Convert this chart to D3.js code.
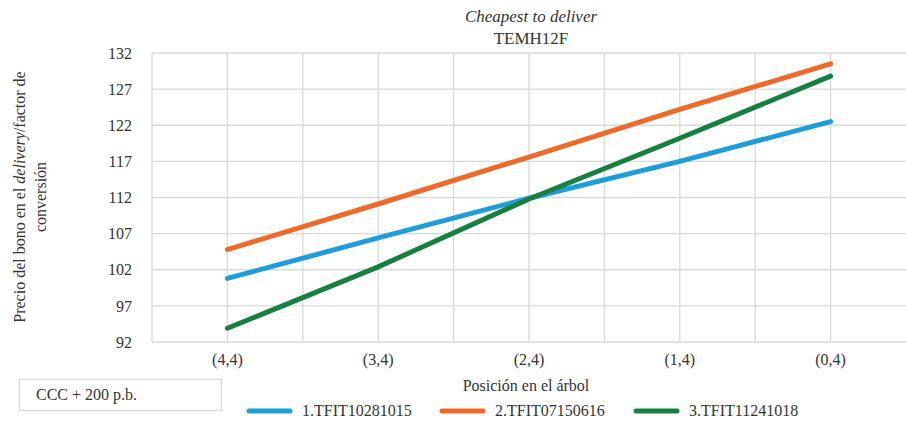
<!DOCTYPE html>
<html>
<head>
<meta charset="utf-8">
<script src="https://cdn.jsdelivr.net/npm/d3@7"></script>
<style>
  body { margin: 0; background: #fff; }
  svg text { font-family: 'Liberation Serif', Tinos, 'Times New Roman', Times, 'DejaVu Serif', serif !important; fill: #333; }
</style>
</head>
<body>
<div id="vis"></div>
<script>
// data
const CATEGORIES = ['(4,4)', '(3,4)', '(2,4)', '(1,4)', '(0,4)'];
const SERIES_NAMES = ['1.TFIT10281015', '2.TFIT07150616', '3.TFIT11241018'];
const BLUE_VALUES = [100.8, 106.4, 111.9, 117.0, 122.5];
const ORANGE_VALUES = [104.8, 111.1, 117.6, 124.2, 130.5];
const GREEN_VALUES = [93.9, 102.4, 111.8, 120.2, 128.8];
const Y_TICKS = [92, 97, 102, 107, 112, 117, 122, 127, 132];
const COLORS = ['#1f9ddb', '#ee6a2a', '#178041'];

const FRAME_WIDTH = 906;
const FRAME_HEIGHT = 423;
const MARGINS = {left: 152, right: 0, top: 53, bottom: 81};

const FRAME = d3.select('#vis')
    .append('svg')
        .attr('width', FRAME_WIDTH)
        .attr('height', FRAME_HEIGHT)
        .attr('font-family', "'Liberation Serif', 'Times New Roman', serif");

const X_SCALE = d3.scaleBand()
    .domain(CATEGORIES)
    .range([MARGINS.left, FRAME_WIDTH - MARGINS.right]);

const Y_SCALE = d3.scaleLinear()
    .domain([92, 132])
    .range([FRAME_HEIGHT - MARGINS.bottom, MARGINS.top]);

// gridlines
const grid = FRAME.append('g').attr('stroke', '#d9d9d9').attr('stroke-width', 1.3);
grid.selectAll('.h')
    .data(Y_TICKS)
    .enter()
    .append('line')
    .attr('x1', MARGINS.left)
    .attr('x2', FRAME_WIDTH - MARGINS.right)
    .attr('y1', d => Y_SCALE(d))
    .attr('y2', d => Y_SCALE(d));

const vLines = [];
CATEGORIES.forEach(c => {
    vLines.push(X_SCALE(c));
    vLines.push(X_SCALE(c) + X_SCALE.bandwidth() / 2);
});
grid.selectAll('.v')
    .data(vLines)
    .enter()
    .append('line')
    .attr('x1', d => d)
    .attr('x2', d => d)
    .attr('y1', Y_SCALE(132))
    .attr('y2', Y_SCALE(92));

// y axis labels
FRAME.append('g')
    .attr('transform', 'translate(' + (MARGINS.left - 20) + ',0)')
    .call(d3.axisLeft(Y_SCALE).tickValues(Y_TICKS).tickSize(0).tickPadding(0))
    .call(g => g.select('.domain').remove())
    .attr('font-family', null)
    .selectAll('text')
        .attr('font-size', '16px')
        .attr('fill', '#333');

// x axis labels
FRAME.append('g')
    .attr('transform', 'translate(0,' + (FRAME_HEIGHT - MARGINS.bottom + 12) + ')')
    .call(d3.axisBottom(X_SCALE).tickSize(0).tickPadding(0))
    .call(g => g.select('.domain').remove())
    .attr('font-family', null)
    .selectAll('text')
        .attr('font-size', '16px')
        .attr('fill', '#333');

// lines
const line = d3.line()
    .x((d, i) => X_SCALE(CATEGORIES[i]) + X_SCALE.bandwidth() / 2)
    .y(d => Y_SCALE(d));

[BLUE_VALUES, ORANGE_VALUES, GREEN_VALUES].forEach((vals, i) => {
    FRAME.append('path')
        .datum(vals)
        .attr('d', line)
        .attr('fill', 'none')
        .attr('stroke', COLORS[i])
        .attr('stroke-width', 5)
        .attr('stroke-linecap', 'round');
});

// titles
FRAME.append('text')
    .attr('x', 531).attr('y', 22)
    .attr('text-anchor', 'middle')
    .attr('font-size', '17px')
    .attr('font-style', 'italic')
    .text('Cheapest to deliver');
FRAME.append('text')
    .attr('x', 531).attr('y', 44)
    .attr('text-anchor', 'middle')
    .attr('font-size', '17px')
    .text('TEMH12F');

// y axis title
const yTitle = FRAME.append('text')
    .attr('transform', 'translate(25,' + 197 + ') rotate(-90)')
    .attr('text-anchor', 'middle')
    .attr('font-size', '16px');
yTitle.append('tspan').text('Precio del bono en el ');
yTitle.append('tspan').attr('font-style', 'italic').text('delivery');
yTitle.append('tspan').text('/factor de');
FRAME.append('text')
    .attr('transform', 'translate(46,' + 197 + ') rotate(-90)')
    .attr('text-anchor', 'middle')
    .attr('font-size', '16px')
    .text('conversión');

// x axis title
FRAME.append('text')
    .attr('x', 526).attr('y', 391)
    .attr('text-anchor', 'middle')
    .attr('font-size', '16px')
    .text('Posición en el árbol');

// annotation box
FRAME.append('rect')
    .attr('x', 19.5).attr('y', 379.5)
    .attr('width', 202).attr('height', 31)
    .attr('fill', '#fff')
    .attr('stroke', '#d9d9d9')
    .attr('stroke-width', 1.3);
FRAME.append('text')
    .attr('x', 36).attr('y', 400)
    .attr('font-size', '16px')
    .text('CCC + 200 p.b.');

// legend
const LEGEND_X = [249, 442, 636];
SERIES_NAMES.forEach((name, i) => {
    FRAME.append('line')
        .attr('x1', LEGEND_X[i]).attr('x2', LEGEND_X[i] + 41)
        .attr('y1', 411).attr('y2', 411)
        .attr('stroke', COLORS[i])
        .attr('stroke-width', 5)
        .attr('stroke-linecap', 'round');
    FRAME.append('text')
        .attr('x', LEGEND_X[i] + 53).attr('y', 416)
        .attr('font-size', '16px')
        .text(name);
});
</script>
</body>
</html>
